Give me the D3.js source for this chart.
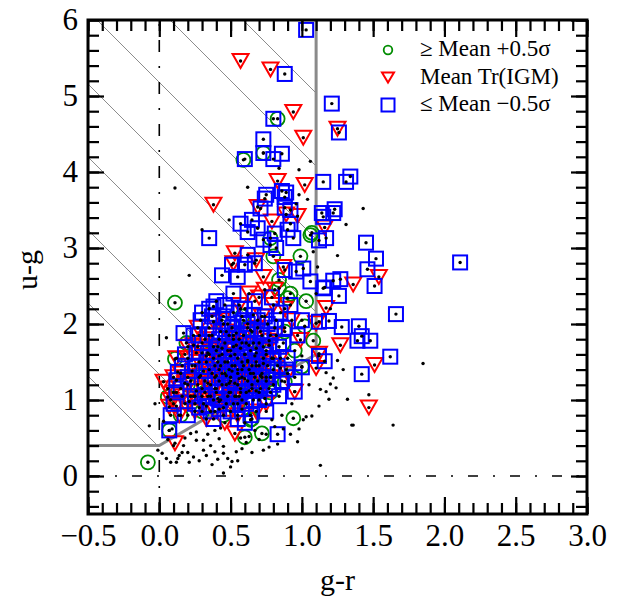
<!DOCTYPE html>
<html>
<head>
<meta charset="utf-8">
<script src="https://cdn.jsdelivr.net/npm/d3@7"></script>
<style>
  body { margin: 0; background: #fff; }
  text { font-family: "Liberation Serif", "Times New Roman", serif; }
</style>
</head>
<body>
<div id="chart"></div>
<script>
// g-r (x) vs u-g (y) colour-colour diagram

// every object (black dots) that has no marker on top of it
var plainDots = [
  [-0.07,0.66],[-0.01,0.34],[0.05,0.23],[0.08,0.18],[0.12,0.18],[0.13,0.23],[0.16,0.31],[0.20,0.31],
  [0.24,0.25],[0.22,0.56],[0.26,0.47],[0.31,0.34],[0.31,0.47],[0.39,0.32],[0.45,0.39],[0.45,0.30],
  [0.48,0.23],[0.51,0.19],[0.50,0.12],[0.45,0.04],[0.54,0.32],[0.65,0.31],[0.73,0.34],[0.77,0.38],
  [0.61,0.44],[0.97,0.45],[1.03,0.78],[0.86,0.80],[0.79,0.74],[1.13,0.14],[1.36,0.67],[1.64,0.67],
  [1.85,1.48],[1.43,3.52],[1.31,3.31],[1.25,2.90],[1.11,2.75],[1.06,4.14],[0.98,4.03],[0.84,4.05],
  [0.62,3.80],[0.11,3.79],[0.49,3.37],[0.30,3.24],[0.21,2.64],[0.05,1.82],[1.32,1.01],[1.47,1.07],
  [1.35,0.67],[1.07,0.79],[1.01,0.74],[1.25,1.52],[1.29,1.40],[1.19,1.01],[1.17,1.11],[1.13,1.14],
  [1.20,1.21],[1.22,1.29],[1.17,1.36],[0.26,0.58],[0.39,0.60],[0.43,0.63],[0.18,0.50],[0.10,0.40],
  [0.34,0.55],[0.57,0.50],[0.67,0.60],[0.87,0.62],[0.93,0.95],[1.05,1.20],[0.02,0.30],[0.28,0.20],
  [0.36,0.40],[0.70,0.48],[0.92,0.55],[-0.03,0.95],[1.04,3.64],[0.98,3.70],[0.55,0.20],[1.20,2.20],
  [1.10,2.40],[0.14,0.27],[0.42,0.49],[0.58,0.36],[0.83,0.42],[1.00,1.58],[1.08,2.95],[0.96,3.58],
  [0.06,0.48],[0.09,0.62],[0.17,0.40],[0.21,0.18],[0.33,0.27],[0.37,0.15],[0.41,0.22],[0.63,0.52],
  [0.75,0.55],[0.81,0.65],[0.98,0.62],[1.12,0.92],[1.24,1.16],[0.03,0.72]
];

// >= Mean +0.5 sigma
var highTr = [
  [0.83,4.70],[0.73,4.25],[0.59,4.16],[0.11,2.28],[-0.08,0.18],[1.07,3.20],[0.78,3.13],[0.80,2.89],
  [0.99,2.89],[1.06,3.17],[0.84,2.47],[0.92,2.40],[0.84,2.58],[1.03,2.30],[1.08,1.78],[1.02,1.97],
  [1.00,1.44],[0.88,1.24],[0.94,0.76],[0.72,0.56],[0.60,0.51],[0.19,1.75],[0.11,1.54],[0.06,1.04],
  [0.07,0.60],[0.30,0.85],[0.45,0.80],[0.55,0.95],[0.65,0.75],[0.25,1.05],[0.72,1.35],[0.80,1.55],
  [0.70,1.75],[0.62,1.95],[0.40,1.15],[0.35,1.60],[0.50,1.30],[0.78,1.10],[0.15,0.80],[0.20,1.20],
  [0.58,2.10],[0.88,1.90],[0.65,1.20],[0.45,2.00],[0.95,1.65],[0.85,1.42],[0.64,0.74],[0.90,2.34],
  [0.32,1.10],[0.42,1.40],[0.55,1.20],[0.62,1.50],[0.48,1.05],[0.38,1.70],[0.68,1.62],[0.75,1.25],
  [0.58,1.40],[0.28,1.30],[0.52,1.85],[0.44,1.60]
];

// Mean Tr(IGM)
var meanTr = [
  [0.57,5.46],[0.78,5.35],[0.94,4.79],[1.01,4.45],[1.25,4.57],[1.02,3.83],[0.83,3.88],[0.38,3.57],
  [0.69,3.54],[0.97,3.42],[0.89,3.44],[0.79,3.35],[1.16,3.27],[0.53,2.93],[0.52,2.80],[0.68,2.84],
  [0.87,2.75],[0.73,2.62],[0.74,2.45],[0.81,2.45],[1.54,2.62],[1.36,2.52],[1.17,2.21],[1.10,2.01],
  [1.27,1.72],[1.51,1.46],[1.47,0.90],[1.10,1.42],[1.12,1.61],[0.99,1.79],[0.38,2.03],[0.24,1.72],
  [0.03,1.24],[0.07,0.91],[0.11,0.43],[0.53,0.56],[0.95,1.11],
  [0.10,1.10],[0.15,1.35],[0.18,0.95],[0.22,1.25],[0.25,0.85],[0.28,1.50],[0.30,1.15],[0.33,0.75],
  [0.35,1.40],[0.38,1.00],[0.40,1.65],[0.42,1.25],[0.45,0.90],[0.48,1.50],[0.50,1.10],[0.52,1.80],
  [0.55,1.35],[0.58,1.00],[0.60,1.60],[0.62,1.25],[0.65,1.90],[0.68,1.45],[0.70,1.10],[0.72,2.10],
  [0.75,1.65],[0.78,1.30],[0.82,1.85],[0.85,1.55],[0.12,1.55],[0.20,1.70],[0.27,1.95],[0.32,1.80],
  [0.44,2.05],[0.47,1.20],[0.56,2.25],[0.63,2.40],[0.36,1.05],[0.43,1.45],[0.53,1.60],[0.57,1.15],
  [0.66,1.35],[0.08,1.00],[0.14,0.80],[0.24,1.05],[0.46,0.70],[0.39,0.85],[0.55,0.80],[0.68,0.85],
  [0.75,0.95],[0.90,1.35],[0.93,2.05],[0.80,2.25],[0.70,2.35],[0.88,2.20],
  [0.16,1.05],[0.18,1.22],[0.21,0.98],[0.23,1.45],[0.26,1.12],[0.29,1.32],[0.31,0.95],[0.33,1.58],
  [0.34,1.22],[0.37,1.35],[0.39,1.15],[0.41,1.50],[0.42,0.98],[0.44,1.68],[0.46,1.35],[0.49,1.22],
  [0.51,1.45],[0.53,1.05],[0.54,1.72],[0.56,1.28],[0.59,1.45],[0.61,1.10],[0.63,1.72],[0.64,1.35],
  [0.67,1.58],[0.69,1.95],[0.71,1.32],[0.73,1.48],[0.12,0.92],[0.06,1.15],[0.10,1.30],[0.20,1.55],
  [0.27,1.70],[0.35,1.85],[0.47,1.90],[0.58,1.75],[0.77,1.78],[0.30,1.62],[0.40,1.32],[0.50,1.65]
];

// <= Mean -0.5 sigma
var lowTr = [
  [1.03,5.87],[0.88,5.29],[1.21,4.90],[0.80,4.70],[1.26,4.52],[0.73,4.43],[0.73,4.25],[0.86,4.24],
  [0.80,4.17],[0.60,4.17],[1.15,3.87],[1.31,3.87],[1.34,3.94],[0.75,3.70],[0.86,3.75],[0.89,3.73],
  [0.88,3.53],[0.71,3.52],[0.92,3.50],[0.74,3.65],[0.88,3.67],[1.14,3.46],[1.23,3.51],[1.22,3.46],
  [1.15,3.41],[0.35,3.13],[0.57,3.32],[0.65,3.37],[0.62,3.21],[0.69,3.26],[0.73,3.11],[0.78,3.04],
  [0.82,3.00],[0.81,3.19],[0.92,3.32],[0.94,3.13],[0.90,3.24],[1.17,3.13],[1.12,3.10],[1.45,3.07],
  [1.52,2.86],[1.46,2.72],[1.51,2.50],[2.11,2.81],[0.44,2.64],[0.55,2.62],[0.51,2.78],[0.62,2.91],
  [0.67,2.80],[0.60,2.78],[0.88,2.71],[0.96,2.69],[1.01,2.73],[1.06,2.56],[1.15,2.47],[1.27,2.59],
  [1.22,2.57],[1.16,2.48],[1.26,2.37],[1.66,2.13],[1.28,1.96],[1.19,2.04],[1.12,2.03],[1.40,1.97],
  [1.42,1.84],[1.39,1.78],[1.48,1.78],[1.62,1.57],[1.42,1.34],[1.12,1.58],[1.16,1.51],[1.00,1.43],
  [0.95,1.11],[0.83,0.55],[0.60,0.70],[0.07,0.60],[0.13,1.37],[0.12,1.26],[0.17,1.88],[0.30,2.15],
  [0.38,2.23],[0.37,2.10],
  [0.22,1.05],[0.25,1.45],[0.28,0.90],[0.30,1.75],[0.32,1.25],[0.35,1.95],[0.36,0.85],[0.38,1.55],
  [0.40,1.10],[0.42,1.80],[0.44,1.35],[0.45,2.10],[0.47,0.95],[0.48,1.65],[0.50,1.25],[0.51,1.95],
  [0.53,1.45],[0.54,1.05],[0.56,1.80],[0.57,2.20],[0.58,1.30],[0.60,1.60],[0.61,0.95],[0.62,2.00],
  [0.63,1.40],[0.65,1.15],[0.66,1.75],[0.67,2.30],[0.68,1.50],[0.70,1.00],[0.71,1.90],[0.72,1.30],
  [0.74,2.10],[0.75,1.60],[0.77,1.15],[0.78,1.85],[0.80,1.40],[0.82,2.05],[0.84,1.70],[0.86,1.25],
  [0.88,1.95],[0.90,1.55],[0.92,2.25],[0.27,1.20],[0.33,1.50],[0.39,1.30],[0.41,1.70],[0.46,1.50],
  [0.49,1.40],[0.52,1.70],[0.55,1.55],[0.59,1.85],[0.64,1.65],[0.69,1.25],[0.73,1.70],[0.76,1.45],
  [0.57,1.10],[0.50,0.85],[0.43,1.00],[0.34,1.05],[0.20,1.30],[0.18,1.60],[0.24,1.85],[0.29,2.05],
  [0.40,2.30],[0.52,2.40],[0.60,2.20],[0.69,2.05],[0.79,2.35],[0.85,2.15],[0.64,0.80],[0.75,0.85],
  [0.84,1.05],[0.55,0.75],[0.38,0.75],[0.15,1.15],[0.10,0.95],[0.20,0.80],[0.97,1.85],[0.95,1.30],
  [1.00,2.05],[0.66,1.00],
  [0.31,1.38],[0.34,1.62],[0.36,1.20],[0.37,1.85],[0.39,1.45],[0.41,1.02],[0.42,1.58],[0.43,1.90],
  [0.44,1.20],[0.46,1.75],[0.47,1.32],[0.48,2.00],[0.49,1.10],[0.50,1.58],[0.51,1.38],[0.52,2.15],
  [0.53,1.22],[0.54,1.88],[0.55,1.40],[0.56,1.05],[0.57,1.68],[0.58,1.50],[0.59,2.05],[0.60,1.28],
  [0.61,1.75],[0.62,1.52],[0.63,1.12],[0.64,1.92],[0.65,1.45],[0.66,2.12],[0.67,1.30],[0.68,1.68],
  [0.70,1.45],[0.71,1.15],[0.72,1.85],[0.73,1.55],[0.75,1.30],[0.76,2.00],[0.77,1.72],[0.79,1.55],
  [0.80,1.20],[0.81,1.95],[0.83,1.45],[0.26,1.62],[0.23,1.38],[0.28,1.85],[0.30,1.05],[0.35,2.20],
  [0.46,2.25],[0.49,1.85],[0.16,1.45],[0.12,1.10],[0.08,0.80],[0.25,0.95],[0.33,0.92],[0.42,0.88],
  [0.52,0.95],[0.58,0.88],[0.68,1.12],[0.74,1.02],[0.87,1.75],[0.89,1.40]
];

// selection region edge: u-g > 0.4, below the slanted cut, g-r < 1.1
var boundary = [[-0.5,0.4],[0.0,0.4],[1.1,1.6],[1.1,6.0]];

var xMajor = [-0.5,0.0,0.5,1.0,1.5,2.0,2.5,3.0];
var yMajor = [0,1,2,3,4,5,6];
var xMinor = d3.range(-5, 31).map(function(d) { return d / 10; });
var yMinor = d3.range(-2, 31).map(function(d) { return d / 5; });

var legendLabels = ["\u2265 Mean +0.5\u03c3", "Mean Tr(IGM)", "\u2264 Mean \u22120.5\u03c3"];

var margin = {top: 20, right: 46, bottom: 85, left: 88};
var width = 633 - margin.left - margin.right;
var height = 599 - margin.top - margin.bottom;

var svg = d3.select("#chart").append("svg")
    .attr("width", 633)
    .attr("height", 599)
  .append("g")
    .attr("transform", "translate(" + margin.left + "," + margin.top + ")");

var x = d3.scaleLinear().domain([-0.5, 3.0]).range([0, width]);
var y = d3.scaleLinear().domain([-0.5, 6.0]).range([height, 0]);

// hatched selection region
var region = boundary.concat([[-0.5, 6.0]]);
svg.append("clipPath").attr("id", "region")
  .append("path")
    .attr("d", d3.line().x(function(d) { return x(d[0]); }).y(function(d) { return y(d[1]); })(region) + "Z");

var hatch = svg.append("g").attr("clip-path", "url(#region)");
d3.range(-12, 10).forEach(function(k) {
  var c = 9 + 73 * k;
  hatch.append("line")
    .attr("x1", c - 20).attr("y1", -20)
    .attr("x2", c + height + 20).attr("y2", height + 20)
    .attr("stroke", "#8c8c8c")
    .attr("stroke-width", 1);
});

// dash-dot zero lines
svg.append("line")
  .attr("x1", x(0)).attr("x2", x(0)).attr("y1", 0).attr("y2", height)
  .attr("stroke", "#000").attr("stroke-width", 1.6)
  .attr("stroke-dasharray", "2,14,12,14").attr("stroke-dashoffset", -4);
svg.append("line")
  .attr("x1", 0).attr("x2", width).attr("y1", y(0)).attr("y2", y(0))
  .attr("stroke", "#000").attr("stroke-width", 1.6)
  .attr("stroke-dasharray", "10,15,2,15").attr("stroke-dashoffset", -2);

svg.append("path")
  .attr("d", d3.line().x(function(d) { return x(d[0]); }).y(function(d) { return y(d[1]); })(boundary))
  .attr("fill", "none")
  .attr("stroke", "#8a8a8a")
  .attr("stroke-width", 3);

// markers
var tri = "M-8,-7L8,-7L0,7Z";

svg.append("g").selectAll("circle")
    .data(highTr)
  .enter().append("circle")
    .attr("cx", function(d) { return x(d[0]); })
    .attr("cy", function(d) { return y(d[1]); })
    .attr("r", 7)
    .attr("fill", "none")
    .attr("stroke", "#008c00")
    .attr("stroke-width", 1.8);

svg.append("g").selectAll("path")
    .data(meanTr)
  .enter().append("path")
    .attr("d", tri)
    .attr("transform", function(d) { return "translate(" + x(d[0]) + "," + y(d[1]) + ")"; })
    .attr("fill", "none")
    .attr("stroke", "#ff0000")
    .attr("stroke-width", 2);

svg.append("g").selectAll("rect")
    .data(lowTr)
  .enter().append("rect")
    .attr("x", function(d) { return x(d[0]) - 7; })
    .attr("y", function(d) { return y(d[1]) - 7; })
    .attr("width", 14)
    .attr("height", 14)
    .attr("fill", "none")
    .attr("stroke", "#0000ff")
    .attr("stroke-width", 2);

// every object is also plotted as a small black dot
var allDots = plainDots.concat(highTr, meanTr, lowTr);
svg.append("g").selectAll("circle")
    .data(allDots)
  .enter().append("circle")
    .attr("cx", function(d) { return x(d[0]); })
    .attr("cy", function(d) { return y(d[1]); })
    .attr("r", 1.7)
    .attr("fill", "#000");

// axes, ticks inward on all four sides
function ticks(axis, vals, size, fmt, padding) {
  return axis.tickValues(vals).tickSize(-size).tickSizeOuter(0).tickPadding(padding || 0)
    .tickFormat(fmt || function() { return ""; });
}
var fmt = d3.format(".1f");
var yfmt = d3.format("d");

var axes = [
  [d3.axisBottom(x), xMinor, 11, null, 0, "translate(0," + height + ")"],
  [d3.axisBottom(x), xMajor, 17, fmt, 10, "translate(0," + height + ")"],
  [d3.axisTop(x), xMinor, 11, null, 0, "translate(0,0)"],
  [d3.axisTop(x), xMajor, 17, null, 0, "translate(0,0)"],
  [d3.axisLeft(y), yMinor, 11, null, 0, "translate(0,0)"],
  [d3.axisLeft(y), yMajor, 16, yfmt, 10, "translate(0,0)"],
  [d3.axisRight(y), yMinor, 11, null, 0, "translate(" + width + ",0)"],
  [d3.axisRight(y), yMajor, 16, null, 0, "translate(" + width + ",0)"]
];
axes.forEach(function(a) {
  var g = svg.append("g")
    .attr("transform", a[5])
    .call(ticks(a[0], a[1], a[2], a[3], a[4]));
  g.select(".domain").remove();
  g.selectAll("line").attr("stroke", "#000").attr("stroke-width", 2.2);
  g.selectAll("text")
    .attr("fill", "#000")
    .style("font-size", "31px")
    .style("font-family", '"Liberation Serif", "Times New Roman", serif');
});

svg.append("rect")
  .attr("x", 0).attr("y", 0)
  .attr("width", width).attr("height", height)
  .attr("fill", "none")
  .attr("stroke", "#000")
  .attr("stroke-width", 3);

// axis titles
svg.append("text")
  .attr("x", width / 2)
  .attr("y", 570)
  .attr("text-anchor", "middle")
  .style("font-size", "30px")
  .text("g-r");

svg.append("text")
  .attr("transform", "translate(" + (-51) + "," + (height / 2 + 3) + ") rotate(-90)")
  .attr("text-anchor", "middle")
  .style("font-size", "30px")
  .text("u-g");

// legend
var legend = svg.append("g").attr("transform", "translate(300,0)");
legendLabels.forEach(function(label, i) {
  var row = legend.append("g").attr("transform", "translate(0," + (30 + i * 27.5) + ")");
  if (i == 0) {
    row.append("circle").attr("r", 4.3).attr("fill", "none")
      .attr("stroke", "#008c00").attr("stroke-width", 1.8);
  } else if (i == 1) {
    row.append("path").attr("d", "M-6,-5L6,-5L0,5Z").attr("fill", "none")
      .attr("stroke", "#ff0000").attr("stroke-width", 2);
  } else {
    row.append("rect").attr("x", -6.5).attr("y", -6.5).attr("width", 13).attr("height", 13)
      .attr("fill", "none").attr("stroke", "#0000ff").attr("stroke-width", 2);
  }
  row.append("text")
    .attr("x", 32)
    .attr("y", 6)
    .style("font-size", "23px")
    .text(label);
});
</script>
</body>
</html>
